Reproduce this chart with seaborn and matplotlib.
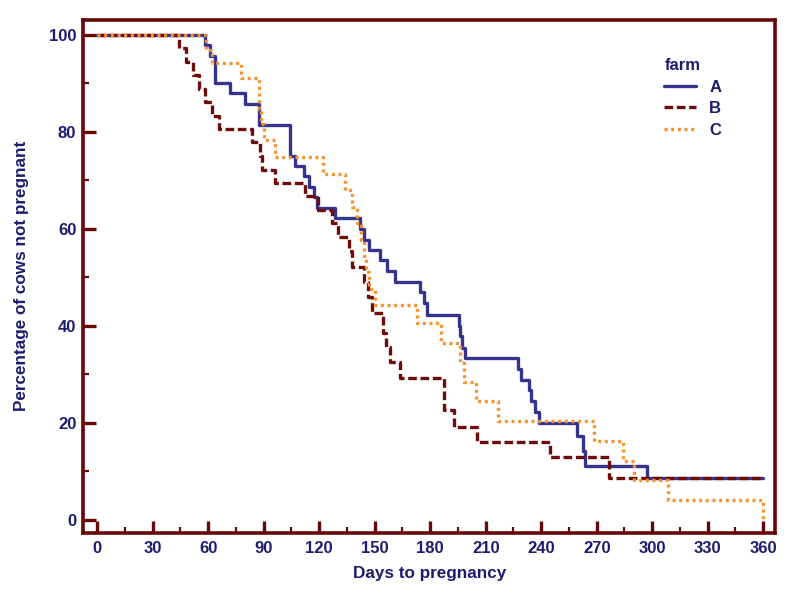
import numpy as np
import pandas as pd
import matplotlib
matplotlib.use('Agg')
import matplotlib.pyplot as plt
from matplotlib.ticker import MultipleLocator
import seaborn as sns

# Kaplan-Meier style step data, one list per farm
a_days = [0, 58, 61.1, 63.8, 71.9, 80, 87.2, 104, 107, 111.5, 114.2, 117, 118.7, 128.6,
          142.2, 144, 147, 153, 156.6, 161, 174.6, 176.4, 178, 195.5, 196.3, 197.2, 199,
          227.2, 229, 233.2, 234.5, 236.8, 239, 259.3, 262.5, 263.5, 297, 360]
a_pct = [100, 97.9, 95.7, 90.1, 88.0, 85.8, 81.4, 75.1, 73.0, 70.8, 68.7, 66.5, 64.3, 62.2,
         59.9, 57.7, 55.6, 53.5, 51.3, 49.1, 46.9, 44.6, 42.3, 40.0, 37.8, 35.5, 33.3,
         31.1, 28.9, 26.7, 24.4, 22.2, 20.0, 17.2, 14.1, 11.1, 8.6, 8.6]

b_days = [0, 44, 48, 52, 55, 58, 62, 66, 83.5, 88.1, 89.2, 96.2, 112.4, 119.6, 126.8,
          130.4, 136, 137.5, 144, 146.5, 148.5, 154.7, 156, 158, 163.5, 187.2, 192.6,
          205.2, 244.9, 276.4, 360]
b_pct = [100, 97.2, 94.4, 91.7, 88.9, 86.1, 83.3, 80.6, 77.8, 75.0, 72.2, 69.4, 66.7, 63.9,
         61.1, 58.3, 55.4, 52.2, 49.0, 46.0, 42.6, 38.5, 35.7, 32.5, 29.2, 22.7, 19.2,
         16.1, 12.9, 8.6, 8.6]

c_days = [0, 59, 62, 77.8, 87.2, 88.6, 90.2, 96.2, 122.3, 134, 137.5, 140.3, 142.5, 144.2,
          145.5, 147, 150.3, 172.8, 185.8, 196.2, 198, 204.7, 216.4, 268.3, 284.1, 290.3,
          308.3, 360]
c_pct = [100, 96.9, 94.1, 91.1, 84.8, 81.6, 78.4, 74.8, 71.3, 67.9, 64.5, 61.1, 57.7, 54.3,
         51.0, 47.6, 44.3, 40.5, 36.4, 32.4, 28.5, 24.4, 20.3, 16.3, 12.2, 8.1,
         4.1, 0]

farms = ['A', 'B', 'C']
x_ticks = [0, 30, 60, 90, 120, 150, 180, 210, 240, 270, 300, 330, 360]
y_ticks = [0, 20, 40, 60, 80, 100]

df = pd.concat([
    pd.DataFrame({'days': a_days, 'pct': a_pct, 'farm': 'A'}),
    pd.DataFrame({'days': b_days, 'pct': b_pct, 'farm': 'B'}),
    pd.DataFrame({'days': c_days, 'pct': c_pct, 'farm': 'C'}),
], ignore_index=True)

navy = '#1c1c6e'
maroon = '#660808'
pal = {'A': '#34348c', 'B': '#6e0c0c', 'C': '#f5922c'}
dash = {'A': '', 'B': (2.6, 1.1), 'C': (0.9, 1.1)}

sns.set_style('white')
plt.rcParams['font.family'] = ['Liberation Sans', 'DejaVu Sans']
plt.rcParams['font.weight'] = 'bold'

fig = plt.figure(figsize=(8, 6), dpi=100)
ax = fig.add_axes([0.104, 0.112, 0.865, 0.855])

sns.lineplot(data=df, x='days', y='pct', hue='farm', style='farm',
             palette=pal, dashes=dash, drawstyle='steps-post',
             linewidth=2.4, estimator=None, sort=False, ax=ax)

ax.set_xlim(-7.6, 366.5)
ax.set_ylim(-2.7, 103.1)
ax.set_xticks(x_ticks)
ax.set_yticks(y_ticks)
ax.xaxis.set_minor_locator(MultipleLocator(15))
ax.yaxis.set_minor_locator(MultipleLocator(10))

for s in ax.spines.values():
    s.set_color(maroon)
    s.set_linewidth(2.6)

ax.tick_params(which='major', direction='in', length=9, width=2.4, color=maroon,
               labelcolor=navy, labelsize=12)
ax.tick_params(axis='y', which='major', pad=5)
ax.tick_params(axis='x', which='major', pad=6)
ax.tick_params(which='minor', direction='in', length=4, width=1.6, color=maroon)
ax.tick_params(axis='y', which='both', left=True)
ax.tick_params(axis='x', which='both', bottom=True)
for lab in ax.get_xticklabels() + ax.get_yticklabels():
    lab.set_fontweight('bold')

ax.set_xlabel('Days to pregnancy', color=navy, fontsize=12.3, fontweight='bold', labelpad=7)
ax.set_ylabel('Percentage of cows not pregnant', color=navy, fontsize=12.3,
              fontweight='bold', labelpad=14)

handles, labels = ax.get_legend_handles_labels()
leg = ax.legend(handles, labels, title='farm', loc='upper left',
                bbox_to_anchor=(0.818, 0.955), frameon=False, fontsize=12,
                title_fontsize=12, handlelength=1.9, handletextpad=0.8,
                labelspacing=0.4, alignment='left')
leg.get_title().set_color(navy)
leg.get_title().set_fontweight('bold')
for t in leg.get_texts():
    t.set_color(navy)
    t.set_fontweight('bold')

fig.savefig('out.png', dpi=100)
